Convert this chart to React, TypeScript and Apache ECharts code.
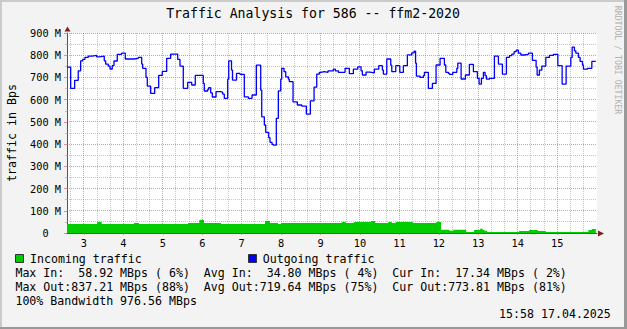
import React, { useEffect, useRef } from 'react';
import * as echarts from 'echarts';

// ---- data (hours of day, values in M Bps) ----
const X_MIN = 2.57;
const X_MAX = 16.01;
const hourTicks = [3, 4, 5, 6, 7, 8, 9, 10, 11, 12, 13, 14, 15];
const minorBaseHours = [2, 3, 4, 5, 6, 7, 8, 9, 10, 11, 12, 13, 14, 15];
const valueTicks = [100, 200, 300, 400, 500, 600, 700, 800, 900];
const minorValueTicks = [50, 150, 250, 350, 450, 550, 650, 750, 850];

const outTimes = [
  2.57, 2.663, 2.764, 2.855, 2.916, 2.967, 3.025, 3.109, 3.211, 3.322,
  3.388, 3.515, 3.55, 3.616, 3.66, 3.718, 3.761, 3.845, 3.956, 4.048,
  4.268, 4.377, 4.464, 4.489, 4.573, 4.606, 4.692, 4.794, 4.895, 4.986,
  5.098, 5.199, 5.377, 5.435, 5.519, 5.631, 5.732, 5.823, 6.026, 6.052,
  6.138, 6.163, 6.214, 6.255, 6.349, 6.468, 6.518, 6.559, 6.645, 6.671,
  6.742, 6.767, 6.869, 6.957, 7.066, 7.168, 7.262, 7.371, 7.482, 7.508,
  7.574, 7.609, 7.685, 7.718, 7.769, 7.802, 7.878, 7.929, 7.99, 8.015,
  8.074, 8.117, 8.183, 8.208, 8.302, 8.411, 8.523, 8.639, 8.741, 8.835,
  8.903, 8.969, 9.005, 9.096, 9.19, 9.324, 9.375, 9.451, 9.621, 9.73,
  9.832, 9.943, 10.027, 10.06, 10.154, 10.255, 10.364, 10.476, 10.567, 10.593,
  10.679, 10.78, 10.806, 10.907, 11.009, 11.1, 11.201, 11.313, 11.371, 11.409,
  11.43, 11.524, 11.607, 11.633, 11.734, 11.836, 11.929, 12.031, 12.14, 12.176,
  12.241, 12.267, 12.353, 12.455, 12.48, 12.564, 12.673, 12.774, 12.876, 12.977,
  13.02, 13.079, 13.129, 13.172, 13.206, 13.282, 13.408, 13.51, 13.611, 13.713,
  13.789, 13.85, 13.908, 13.959, 14.017, 14.078, 14.162, 14.271, 14.372, 14.466,
  14.492, 14.55, 14.611, 14.712, 14.804, 14.905, 15.017, 15.126, 15.227, 15.346,
  15.38, 15.438, 15.473, 15.539, 15.582, 15.641, 15.666, 15.768, 15.879, 15.98,
];
const outValues = [
  746, 651, 687, 730, 775, 781, 790, 796, 799, 793,
  796, 775, 760, 751, 738, 753, 774, 804, 809, 783,
  786, 790, 760, 741, 700, 661, 628, 654, 709, 727,
  786, 805, 781, 751, 651, 678, 666, 709, 673, 639,
  646, 654, 631, 612, 636, 633, 625, 606, 692, 775,
  733, 688, 718, 714, 613, 606, 621, 755, 643, 523,
  486, 453, 429, 408, 399, 395, 516, 640, 692, 741,
  726, 703, 692, 681, 590, 576, 571, 535, 595, 656,
  715, 723, 726, 723, 730, 737, 730, 723, 741, 717,
  737, 748, 730, 711, 724, 721, 737, 753, 733, 715,
  783, 755, 726, 753, 723, 753, 802, 811, 818, 764,
  706, 700, 708, 723, 651, 673, 756, 786, 756, 723,
  718, 714, 723, 741, 764, 693, 711, 759, 726, 696,
  670, 696, 723, 708, 692, 696, 796, 760, 715, 790,
  798, 805, 816, 823, 809, 801, 804, 809, 777, 746,
  711, 733, 751, 790, 799, 804, 753, 670, 751, 790,
  836, 820, 809, 790, 772, 756, 737, 741, 772, 772,
];

const inTimes = [
  2.57, 3.337, 3.449, 4.268, 4.395, 5.638, 5.925, 6.044, 6.475, 7.592,
  7.718, 7.921, 7.997, 9.537, 9.639, 9.849, 10.273, 10.382, 10.719, 10.806,
  10.907, 11.338, 11.937, 12.056, 12.267, 12.368, 12.69, 12.893, 13.046, 13.114,
  13.155, 13.223, 14.035, 14.289, 14.509, 14.712, 15.793, 15.879, 15.98,
];
const inValues = [
  40, 49, 40, 45, 40, 45, 59, 45, 40, 54,
  45, 40, 45, 49, 45, 49, 54, 45, 49, 45,
  49, 45, 49, 15, 10, 15, 5, 14, 19, 14,
  10, 5, 9, 14, 9, 5, 14, 18, 18,
];

const titleText = 'Traffic Analysis for 586 -- ffm2-2020';
const yAxisTitle = 'traffic in Bps';
const watermark = 'RRDTOOL / TOBI OETIKER';
const legendIn = 'Incoming traffic';
const legendOut = 'Outgoing traffic';
const statRows = [
  'Max In:  58.92 MBps ( 6%)  Avg In:  34.80 MBps ( 4%)  Cur In:  17.34 MBps ( 2%)',
  'Max Out:837.21 MBps (88%)  Avg Out:719.64 MBps (75%)  Cur Out:773.81 MBps (81%)',
  '100% Bandwidth 976.56 MBps',
];
const dateText = '15:58 17.04.2025';

// ---- styles ----
const MONO = '"DejaVu Sans Mono", monospace';
const MGRID = 'rgba(222,80,80,0.6)';
const GRID = 'rgba(143,143,143,0.5)';
const AXIS = '#555555';
const ARROW = '#7f1f1f';
const GREEN = '#00cc00';
const BLUE = '#0000ff';

const pre = (s: string) => s.replace(/ /g, '\u00a0');
const crisp = (v: number) => Math.floor(v) + 0.5;

export default function App() {
  const ref = useRef<HTMLDivElement>(null);

  useEffect(() => {
    if (!ref.current) return;
    const chart = echarts.init(ref.current, null, { renderer: 'svg' });

    const minorTicks = minorBaseHours
      .flatMap((h) => [h + 1 / 3, h + 2 / 3])
      .filter((v) => v > X_MIN && v < X_MAX - 0.2);

    const vGridData = [
      ...minorTicks.map((v) => [v, 450, 0]),
      ...hourTicks.map((v) => [v, 450, 1]),
    ];
    const hGridData = [
      ...minorValueTicks.map((v) => [X_MIN, v, 0]),
      ...valueTicks.map((v) => [X_MIN, v, 1]),
    ];

    const legendY = [259, 273.3, 287.3, 301.3];

    const gridRender = (vertical: boolean) => (_p: any, api: any) => {
      const major = api.value(2) === 1;
      let shape;
      if (vertical) {
        const v = api.value(0);
        const top = api.coord([v, 900]);
        const bot = api.coord([v, 0]);
        const x = crisp(top[0]);
        shape = { x1: x, y1: top[1], x2: x, y2: bot[1] };
      } else {
        const v = api.value(1);
        const left = api.coord([X_MIN, v]);
        const right = api.coord([X_MAX, v]);
        const y = crisp(left[1]);
        shape = { x1: left[0], y1: y, x2: right[0], y2: y };
      }
      return {
        type: 'line',
        silent: true,
        shape,
        style: { stroke: major ? MGRID : GRID, lineWidth: 1, lineDash: [1, 1] },
      };
    };

    const option: any = {
      animation: false,
      backgroundColor: '#f3f3f3',
      grid: {
        left: 67,
        top: 33,
        width: 530,
        height: 200,
        show: false,
        containLabel: false,
        outerBoundsMode: 'none',
      },
      xAxis: {
        type: 'value',
        min: X_MIN,
        max: X_MAX,
        splitLine: { show: false },
        axisLine: { show: true, lineStyle: { color: AXIS, width: 1 } },
        axisTick: {
          show: true,
          customValues: hourTicks,
          length: 2,
          lineStyle: { color: MGRID },
        },
        axisLabel: {
          customValues: hourTicks,
          margin: 5,
          fontFamily: MONO,
          fontSize: 10.3,
          color: '#000',
          formatter: (v: number) => String(v),
        },
      },
      yAxis: {
        type: 'value',
        min: 0,
        max: 900,
        interval: 100,
        axisLine: { show: true, lineStyle: { color: AXIS, width: 1 } },
        axisTick: { show: true, length: 3, lineStyle: { color: MGRID } },
        minorTick: { show: true, splitNumber: 2, length: 2, lineStyle: { color: GRID } },
        splitLine: { show: false },
        minorSplitLine: { show: false },
        axisLabel: {
          margin: 6,
          fontFamily: MONO,
          fontSize: 10.3,
          color: '#000',
          formatter: (v: number) => (v === 0 ? '0\u00a0\u00a0' : `${v}\u00a0M`),
        },
      },
      series: [
        {
          type: 'custom',
          name: 'vgrid',
          silent: true,
          z: 1,
          data: vGridData,
          encode: { x: 0, y: 1 },
          renderItem: gridRender(true),
        },
        {
          type: 'custom',
          name: 'hgrid',
          silent: true,
          z: 1,
          data: hGridData,
          encode: { x: 0, y: 1 },
          renderItem: gridRender(false),
        },
        {
          type: 'line',
          name: legendIn,
          data: inTimes.map((t, i) => [t, inValues[i]]),
          step: 'end',
          symbol: 'none',
          showSymbol: false,
          silent: true,
          z: 2,
          itemStyle: { color: GREEN },
          lineStyle: { color: GREEN, width: 0 },
          areaStyle: { color: GREEN, opacity: 1 },
        },
        {
          type: 'line',
          name: legendOut,
          data: outTimes.map((t, i) => [t, outValues[i]]),
          step: 'end',
          symbol: 'none',
          showSymbol: false,
          silent: true,
          z: 3,
          itemStyle: { color: BLUE },
          lineStyle: { color: BLUE, width: 1.3 },
        },
      ],
      graphic: [
        { type: 'rect', z: -10, shape: { x: 67, y: 33, width: 530, height: 200 }, style: { fill: '#ffffff' }, silent: true },
        { type: 'rect', shape: { x: 0, y: 0, width: 627, height: 2 }, style: { fill: '#cbcbcb' }, silent: true },
        { type: 'rect', shape: { x: 0, y: 0, width: 2, height: 329 }, style: { fill: '#cbcbcb' }, silent: true },
        { type: 'rect', shape: { x: 0, y: 327, width: 627, height: 2 }, style: { fill: '#999999' }, silent: true },
        { type: 'rect', shape: { x: 624, y: 0, width: 3, height: 329 }, style: { fill: '#999999' }, silent: true },
        {
          type: 'polygon',
          shape: { points: [[64.5, 31.5], [70.5, 31.5], [67.5, 26.5]] },
          style: { fill: ARROW },
          silent: true,
        },
        {
          type: 'polygon',
          shape: { points: [[598, 230.5], [598, 236.5], [604, 233.5]] },
          style: { fill: ARROW },
          silent: true,
        },
        {
          type: 'text',
          x: 313,
          y: 13.5,
          silent: true,
          style: { text: pre(titleText), fontFamily: MONO, fontSize: 13.2, fill: '#000', align: 'center', verticalAlign: 'middle' },
        },
        {
          type: 'text',
          x: 12,
          y: 133,
          rotation: Math.PI / 2,
          silent: true,
          style: { text: pre(yAxisTitle), fontFamily: MONO, fontSize: 11.6, fill: '#000', align: 'center', verticalAlign: 'middle' },
        },
        {
          type: 'text',
          x: 618,
          y: 60,
          rotation: -Math.PI / 2,
          silent: true,
          style: { text: pre(watermark), fontFamily: MONO, fontSize: 8.2, fill: '#b0b0b0', align: 'center', verticalAlign: 'middle' },
        },
        { type: 'rect', shape: { x: 15.5, y: 254.5, width: 8, height: 8 }, style: { fill: GREEN, stroke: '#333', lineWidth: 1 }, silent: true },
        { type: 'rect', shape: { x: 248.5, y: 254.5, width: 8, height: 8 }, style: { fill: BLUE, stroke: '#333', lineWidth: 1 }, silent: true },
        {
          type: 'text', x: 30, y: legendY[0], silent: true,
          style: { text: pre(legendIn), fontFamily: MONO, fontSize: 11.6, fill: '#000', align: 'left', verticalAlign: 'middle' },
        },
        {
          type: 'text', x: 262.7, y: legendY[0], silent: true,
          style: { text: pre(legendOut), fontFamily: MONO, fontSize: 11.6, fill: '#000', align: 'left', verticalAlign: 'middle' },
        },
        ...statRows.map((row, i) => ({
          type: 'text', x: 15.4, y: legendY[i + 1], silent: true,
          style: { text: pre(row), fontFamily: MONO, fontSize: 11.6, fill: '#000', align: 'left', verticalAlign: 'middle' },
        })),
        {
          type: 'text', x: 610.8, y: 314, silent: true,
          style: { text: pre(dateText), fontFamily: MONO, fontSize: 11.6, fill: '#000', align: 'right', verticalAlign: 'middle' },
        },
      ],
    };

    chart.setOption(option);
    return () => chart.dispose();
  }, []);

  return (
    <div
      ref={ref}
      style={{ position: 'absolute', left: 0, top: 0, width: 627, height: 329 }}
    />
  );
}
